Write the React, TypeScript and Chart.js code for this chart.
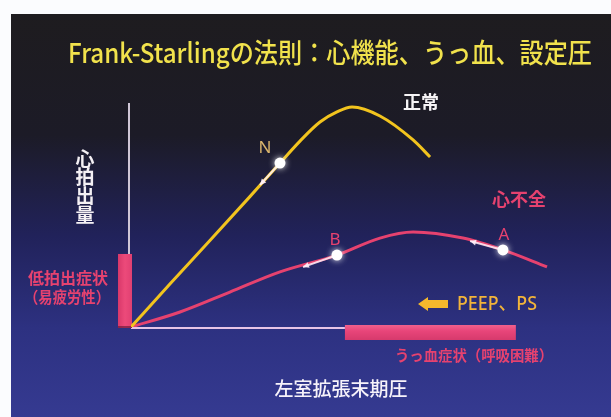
import React, { useEffect, useRef } from "react";
import { Chart, registerables } from "chart.js";

Chart.register(...registerables);

// ---- data (x: 左室拡張末期圧, y: 心拍出量; arbitrary units) ----
const normalCurve = [
  { x: 0, y: 0 },
  { x: 1.81, y: 1.92 },
  { x: 3.67, y: 3.86 },
  { x: 5.53, y: 5.82 },
  { x: 6.93, y: 7.32 },
  { x: 7.86, y: 8.3 },
  { x: 8.79, y: 9.15 },
  { x: 9.58, y: 9.6 },
  { x: 10.28, y: 9.82 },
  { x: 11.58, y: 9.42 },
  { x: 13.12, y: 8.35 },
  { x: 13.91, y: 7.59 },
];
const failureCurve = [
  { x: 0, y: 0 },
  { x: 2.28, y: 0.67 },
  { x: 4.6, y: 1.56 },
  { x: 6.93, y: 2.46 },
  { x: 9.58, y: 3.21 },
  { x: 11.58, y: 3.97 },
  { x: 13.12, y: 4.24 },
  { x: 15.44, y: 3.97 },
  { x: 17.3, y: 3.44 },
  { x: 19.35, y: 2.68 },
];
const markerLabels = ["N", "B", "A"];
const markerPoints = [
  { x: 6.93, y: 7.32 },
  { x: 9.58, y: 3.21 },
  { x: 17.3, y: 3.44 },
];
const shiftEnds = [
  { x: 6.0, y: 6.34 },
  { x: 8.0, y: 2.68 },
  { x: 15.77, y: 3.84 },
];
const lowOutputRange = [0, 3.26];
const congestionRange = [9.95, 17.9];
const xAxisExtent = [0, 9.95];
const yAxisExtent = [0, 10];

const titleText = "Frank-Starlingの法則：心機能、うっ血、設定圧";
const yTitleChars = ["心", "拍", "出", "量"];
const xTitleText = "左室拡張末期圧";
const normalLabel = "正常";
const failureLabel = "心不全";
const lowOutputLabel = ["低拍出症状", "（易疲労性）"];
const congestionLabel = "うっ血症状（呼吸困難）";
const therapyLabel = "PEEP、PS";

const JP = "'Noto Sans CJK JP', 'Noto Sans', sans-serif";
const YELLOW = "#f2c41e";
const PINK = "#e6426f";

function txt(ctx: CanvasRenderingContext2D, s: string, x: number, y: number, font: string, color: string, maxW?: number) {
  ctx.font = font;
  ctx.fillStyle = color;
  ctx.textAlign = "center";
  ctx.textBaseline = "middle";
  if (maxW) ctx.fillText(s, x, y, maxW);
  else ctx.fillText(s, x, y);
}

const decorPlugin = {
  id: "decor",
  beforeDraw(chart: any) {
    const ctx = chart.ctx as CanvasRenderingContext2D;
    const W = chart.width, H = chart.height;
    ctx.save();
    ctx.fillStyle = "#fbfcfe";
    ctx.fillRect(0, 0, W, H);
    const g = ctx.createLinearGradient(0, 14, 0, H);
    g.addColorStop(0, "#1e1c1f");
    g.addColorStop(0.3, "#1c1b27");
    g.addColorStop(0.55, "#21225a");
    g.addColorStop(0.78, "#2d3181");
    g.addColorStop(1, "#353a91");
    ctx.fillStyle = g;
    ctx.fillRect(11, 14, W - 11, H - 14);
    ctx.restore();
  },
  beforeDatasetsDraw(chart: any) {
    const ctx = chart.ctx as CanvasRenderingContext2D;
    const xs = chart.scales.x, ys = chart.scales.y;
    ctx.save();
    // axes
    ctx.strokeStyle = "#cfc6d6";
    ctx.lineWidth = 2;
    ctx.beginPath();
    const ax = xs.getPixelForValue(0) - 2;
    ctx.moveTo(ax, ys.getPixelForValue(yAxisExtent[1]));
    ctx.lineTo(ax, ys.getPixelForValue(0));
    ctx.stroke();
    ctx.strokeStyle = "#e6c4e6";
    ctx.beginPath();
    ctx.moveTo(xs.getPixelForValue(xAxisExtent[0]), ys.getPixelForValue(0) + 1);
    ctx.lineTo(xs.getPixelForValue(xAxisExtent[1]), ys.getPixelForValue(0) + 1);
    ctx.stroke();
    // low output bar on y axis
    const y0 = ys.getPixelForValue(lowOutputRange[0]) + 1;
    const y1 = ys.getPixelForValue(lowOutputRange[1]);
    const bx = xs.getPixelForValue(0) - 13;
    let gg = ctx.createLinearGradient(bx, 0, bx + 14, 0);
    gg.addColorStop(0, "#d8386a");
    gg.addColorStop(0.5, "#ec4a7a");
    gg.addColorStop(1, "#e04072");
    ctx.fillStyle = gg;
    ctx.fillRect(bx, y1, 14, y0 - y1);
    ctx.fillStyle = "rgba(90,20,50,0.6)";
    ctx.fillRect(bx, y0 - 2, 14, 2);
    // congestion bar on x axis
    const cx0 = xs.getPixelForValue(congestionRange[0]);
    const cx1 = xs.getPixelForValue(congestionRange[1]);
    const cy = ys.getPixelForValue(0) - 2;
    gg = ctx.createLinearGradient(0, cy, 0, cy + 15);
    gg.addColorStop(0, "#f0608c");
    gg.addColorStop(0.4, "#e8457a");
    gg.addColorStop(1, "#d63a6c");
    ctx.fillStyle = gg;
    ctx.fillRect(cx0, cy, cx1 - cx0, 15);
    ctx.restore();
  },
  beforeDatasetDraw(chart: any, args: any) {
    if (args.index !== 0) return;
    const ctx = chart.ctx as CanvasRenderingContext2D;
    const xs = chart.scales.x, ys = chart.scales.y;
    ctx.save();
    ctx.strokeStyle = "rgba(255,240,250,0.85)";
    ctx.fillStyle = "rgba(255,240,250,0.9)";
    ctx.lineWidth = 2;
    markerPoints.forEach((p, i) => {
      const e = shiftEnds[i];
      const px = xs.getPixelForValue(p.x), py = ys.getPixelForValue(p.y);
      const ex = xs.getPixelForValue(e.x), ey = ys.getPixelForValue(e.y);
      ctx.beginPath();
      ctx.moveTo(px, py);
      ctx.lineTo(ex, ey);
      ctx.stroke();
      const ang = Math.atan2(ey - py, ex - px);
      ctx.beginPath();
      ctx.moveTo(ex, ey);
      ctx.lineTo(ex - 6 * Math.cos(ang) + 3 * Math.sin(ang), ey - 6 * Math.sin(ang) - 3 * Math.cos(ang));
      ctx.lineTo(ex - 6 * Math.cos(ang) - 3 * Math.sin(ang), ey - 6 * Math.sin(ang) + 3 * Math.cos(ang));
      ctx.closePath();
      ctx.fill();
    });
    ctx.restore();
    ctx.save();
    ctx.shadowColor = "rgba(255,255,255,0.9)";
    ctx.shadowBlur = 6;
  },
  afterDatasetDraw(chart: any, args: any) {
    if (args.index !== 0) return;
    chart.ctx.restore();
  },
  afterDraw(chart: any) {
    const ctx = chart.ctx as CanvasRenderingContext2D;
    const xs = chart.scales.x, ys = chart.scales.y;
    ctx.save();
    // title
    txt(ctx, titleText, 330, 53, `500 27px ${JP}`, "#f1e24c", 524);
    // y title (vertical)
    const yc = [159, 177, 196, 215];
    yTitleChars.forEach((c, i) => txt(ctx, c, 85, yc[i], `700 19px ${JP}`, "#f4f0f4"));
    // x title
    txt(ctx, xTitleText, 341, 389, `500 19px ${JP}`, "#f6f2fa", 140);
    // curve labels
    txt(ctx, normalLabel, 421, 102, `700 18px ${JP}`, "#f6f4f6");
    txt(ctx, failureLabel, 519, 199, `700 18px ${JP}`, PINK);
    // marker labels
    const lblColors = ["#d8b46c", PINK, PINK];
    markerPoints.forEach((p, i) => {
      const px = xs.getPixelForValue(p.x), py = ys.getPixelForValue(p.y);
      const dx = i === 0 ? -15 : i === 1 ? -2 : 1;
      txt(ctx, markerLabels[i], px + dx, py - 15, `400 17px 'Noto Sans', sans-serif`, lblColors[i]);
    });
    // low output label
    txt(ctx, lowOutputLabel[0], 68, 278, `700 16px ${JP}`, PINK, 84);
    txt(ctx, lowOutputLabel[1], 67, 297, `700 16px ${JP}`, PINK, 86);
    // congestion label
    txt(ctx, congestionLabel, 474, 355, `700 15px ${JP}`, PINK, 158);
    // PEEP arrow
    ctx.fillStyle = "#f4b82c";
    ctx.beginPath();
    const ay = 304;
    ctx.moveTo(418, ay);
    ctx.lineTo(428, ay - 7);
    ctx.lineTo(428, ay - 4);
    ctx.lineTo(448, ay - 4);
    ctx.lineTo(448, ay + 4);
    ctx.lineTo(428, ay + 4);
    ctx.lineTo(428, ay + 7);
    ctx.closePath();
    ctx.fill();
    txt(ctx, therapyLabel, 497, 304, `500 20px 'Noto Sans', ${JP}`, "#f2b43a", 80);
    ctx.restore();
  },
};

export default function App() {
  const ref = useRef<HTMLCanvasElement>(null);
  useEffect(() => {
    if (!ref.current) return;
    const chart = new Chart(ref.current, {
      type: "line",
      data: {
        datasets: [
          {
            data: markerPoints,
            showLine: false,
            pointRadius: 5.5,
            pointBackgroundColor: "#ffffff",
            pointBorderColor: "#ffffff",
            pointBorderWidth: 0,
          } as any,
          {
            data: normalCurve,
            borderColor: YELLOW,
            borderWidth: 3,
            pointRadius: 0,
            cubicInterpolationMode: "monotone",
            fill: false,
          },
          {
            data: failureCurve,
            borderColor: PINK,
            borderWidth: 3,
            pointRadius: 0,
            cubicInterpolationMode: "monotone",
            fill: false,
          },
        ],
      },
      options: {
        responsive: false,
        animation: false,
        devicePixelRatio: 1,
        layout: { padding: { left: 131, right: 50, top: 103, bottom: 90 } },
        scales: {
          x: { type: "linear", min: 0, max: 20, display: false },
          y: { type: "linear", min: 0, max: 10, display: false },
        },
        plugins: { legend: { display: false }, tooltip: { enabled: false }, title: { display: false } },
        events: [],
      },
      plugins: [decorPlugin as any],
    });
    return () => chart.destroy();
  }, []);
  return (
    <div style={{ position: "absolute", left: 0, top: 0, width: 611, height: 417 }}>
      <canvas ref={ref} width={611} height={417} style={{ display: "block", width: 611, height: 417 }} />
    </div>
  );
}
